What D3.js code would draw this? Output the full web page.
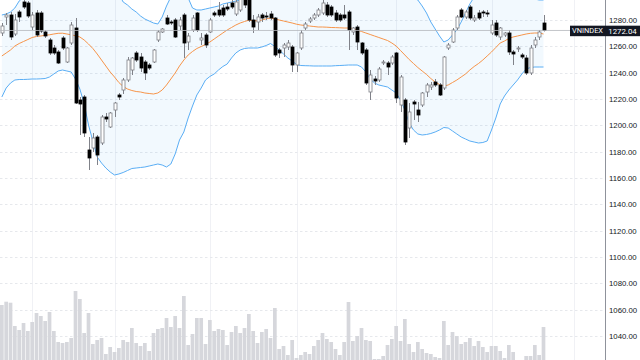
<!DOCTYPE html>
<html>
<head>
<meta charset="utf-8">
<script src="https://cdn.jsdelivr.net/npm/d3@7/dist/d3.min.js"></script>
<style>
  body { margin: 0; background: #fff; }
  svg { display: block; }
</style>
</head>
<body>
<div id="chart"></div>
<script>
// daily candles, oldest first
const opens = [1270.13,1282.28,1283.8,1269.37,1286.08,1293.67,1292.91,1274.68,1285.32,1285.32,
  1270.89,1264.81,1258.73,1255.7,1266.33,1248.1,1262.53,1273.92,1219.24,1221.52,
  1181.27,1182.78,1191.14,1186.58,1206.33,1198.74,1211.64,1223.04,1226.83,1234.43,
  1242.02,1254.94,1251.9,1248.1,1245.82,1248.1,1264.81,1270.89,1281.52,1278.48,
  1280.0,1275.44,1283.8,1263.29,1272.4,1285.32,1264.81,1268.61,1270.89,1285.32,
  1287.6,1289.11,1289.87,1292.91,1284.56,1287.6,1298.99,1295.19,1280.0,1278.48,
  1283.8,1283.04,1284.56,1281.52,1257.22,1258.73,1259.49,1259.49,1245.82,1258.73,
  1273.92,1279.24,1281.52,1283.8,1285.32,1291.39,1289.87,1285.32,1283.8,1283.8,
  1286.08,1270.89,1274.68,1262.53,1257.22,1225.32,1235.19,1234.43,1247.34,1247.34,
  1247.34,1254.94,1215.44,1219.24,1197.97,1217.72,1211.64,1215.44,1225.32,1229.11,
  1232.91,1230.63,1228.35,1258.73,1263.29,1273.92,1287.6,1282.28,1289.87,1280.0,
  1285.32,1286.08,1285.32,1270.13,1277.72,1267.09,1268.61,1270.13,1255.7,1257.97,
  1253.42,1251.14,1239.75,1261.01,1267.09,1277.72];
const highs = [1277.72,1285.32,1286.08,1284.56,1287.6,1295.19,1294.43,1286.08,1287.6,1286.84,
  1272.4,1266.33,1261.01,1257.22,1267.85,1259.49,1278.48,1281.52,1221.52,1223.04,
  1191.14,1194.18,1192.66,1207.85,1209.37,1210.13,1217.72,1224.56,1235.95,1251.9,
  1251.9,1256.46,1254.94,1249.62,1247.34,1257.97,1272.4,1273.92,1283.8,1280.0,
  1281.52,1282.28,1285.32,1270.13,1283.8,1286.08,1270.13,1270.13,1281.52,1286.84,
  1293.67,1291.39,1292.91,1295.19,1296.71,1299.75,1301.27,1297.47,1283.8,1284.56,
  1285.32,1286.08,1286.84,1282.28,1258.73,1262.53,1264.81,1261.01,1255.7,1272.4,
  1278.48,1282.28,1285.32,1289.11,1295.19,1293.67,1291.39,1287.6,1285.32,1291.39,
  1287.6,1274.68,1276.2,1263.29,1258.73,1242.02,1237.47,1244.3,1249.62,1248.86,
  1253.42,1255.7,1238.23,1220.76,1216.96,1219.24,1217.72,1225.32,1232.15,1232.91,
  1235.19,1232.15,1252.66,1262.53,1273.92,1283.8,1289.11,1287.6,1291.39,1283.8,
  1287.6,1287.6,1287.6,1280.0,1280.0,1274.68,1270.89,1272.4,1257.22,1260.25,
  1254.94,1253.42,1261.01,1267.09,1272.4,1283.8];
const lows = [1267.85,1276.2,1264.81,1267.85,1278.48,1288.35,1281.52,1272.4,1267.09,1270.13,
  1266.33,1253.42,1253.42,1246.58,1257.22,1247.34,1261.01,1216.2,1192.66,1191.14,
  1166.08,1179.75,1169.87,1185.06,1202.53,1197.97,1206.33,1219.24,1223.8,1232.91,
  1238.23,1248.1,1240.5,1234.43,1242.02,1247.34,1263.29,1270.13,1276.2,1276.2,
  1266.33,1272.4,1251.14,1257.22,1270.89,1270.89,1261.01,1258.73,1270.13,1282.28,
  1282.28,1282.28,1286.84,1288.35,1283.04,1286.08,1289.11,1278.48,1270.13,1272.4,
  1278.48,1280.0,1280.0,1251.9,1251.14,1251.9,1257.22,1240.5,1240.5,1257.22,
  1272.4,1277.72,1280.0,1282.28,1283.8,1282.28,1282.28,1278.48,1278.48,1280.0,
  1257.22,1268.61,1257.22,1253.42,1230.63,1219.24,1230.63,1232.91,1245.82,1238.23,
  1245.82,1216.96,1210.13,1185.06,1190.38,1204.05,1202.53,1213.92,1221.52,1226.83,
  1229.11,1222.28,1226.83,1257.22,1262.53,1272.4,1281.52,1280.76,1280.0,1278.48,
  1280.0,1282.28,1282.28,1268.61,1267.09,1264.81,1267.09,1253.42,1245.82,1255.7,
  1250.38,1238.23,1238.23,1258.73,1264.81,1271.27];
const closes = [1275.44,1283.8,1267.09,1280.0,1282.28,1289.87,1283.04,1283.8,1268.61,1271.65,
  1267.85,1254.94,1254.94,1247.34,1258.73,1258.73,1276.2,1216.96,1216.2,1194.18,
  1175.2,1190.38,1177.47,1206.33,1204.81,1209.37,1216.96,1221.52,1234.43,1249.62,
  1251.14,1249.62,1243.54,1239.75,1243.54,1257.22,1270.89,1273.16,1276.96,1277.72,
  1267.09,1280.0,1262.53,1267.85,1281.52,1272.4,1266.33,1261.01,1280.0,1283.8,
  1283.8,1283.8,1288.35,1289.87,1293.67,1297.47,1291.39,1280.0,1274.68,1282.28,
  1281.52,1282.28,1281.52,1253.42,1254.94,1261.01,1262.53,1245.82,1254.94,1270.13,
  1276.96,1280.76,1283.8,1287.6,1292.91,1283.8,1283.8,1280.0,1280.0,1281.52,
  1272.4,1273.92,1263.29,1254.94,1232.15,1238.23,1233.67,1242.78,1248.1,1244.3,
  1251.9,1220.76,1236.71,1187.34,1210.13,1216.2,1207.85,1224.56,1230.63,1230.63,
  1230.63,1223.04,1251.9,1261.01,1272.4,1282.28,1282.28,1286.08,1281.52,1281.52,
  1281.52,1285.32,1284.56,1276.2,1268.61,1273.92,1270.13,1255.7,1254.18,1258.73,
  1251.9,1239.75,1258.73,1264.81,1270.89,1272.04];
// volume, millions of shares
const volumes = [700,733,723,490,450,520,440,530,620,590,
  540,630,440,330,320,330,370,840,760,420,
  620,310,350,370,210,280,230,270,350,330,
  470,320,290,320,240,420,460,470,570,480,
  590,470,790,300,410,570,570,310,550,440,
  460,450,300,430,490,420,470,610,440,320,
  430,460,370,670,260,290,200,350,170,200,
  230,210,290,350,420,360,330,260,200,330,
  730,340,390,470,350,340,160,160,190,300,
  360,490,340,560,310,230,330,260,220,210,
  180,170,540,300,430,390,310,330,370,290,
  340,280,230,290,290,240,170,300,230,100,
  100,190,190,300,200,480];
// Bollinger Bands (20, 2)
const bbUpper = [1283.8,1284.56,1286.08,1289.11,1294.43,1297.47,1299.75,1302.03,1303.54,1304.3,
  1305.06,1305.06,1304.3,1303.54,1302.79,1302.79,1302.79,1304.3,1307.34,1313.42,
  1321.77,1327.09,1330.13,1327.85,1322.53,1316.46,1308.86,1299.75,1293.67,1291.39,
  1288.35,1286.08,1283.04,1280.76,1279.24,1277.72,1276.96,1282.28,1290.63,1297.47,
  1301.27,1302.03,1301.27,1296.71,1289.11,1287.6,1287.6,1288.35,1289.11,1289.87,
  1290.63,1292.15,1292.91,1293.67,1294.43,1295.19,1296.71,1301.27,1300.51,1299.75,
  1300.51,1301.27,1300.89,1301.65,1302.79,1304.3,1305.82,1306.58,1307.34,1306.96,
  1306.35,1305.67,1305.06,1304.3,1304.3,1304.0,1303.54,1303.16,1302.79,1302.25,
  1302.03,1301.27,1298.99,1298.23,1299.75,1302.79,1303.54,1302.79,1301.27,1299.75,
  1298.23,1296.71,1297.47,1297.47,1298.23,1297.47,1295.19,1290.63,1285.32,1278.48,
  1273.16,1267.85,1263.29,1264.81,1268.61,1272.4,1278.48,1285.32,1292.15,1297.47,
  1302.79,1307.34,1311.9,1311.9,1310.38,1308.1,1305.82,1304.3,1302.79,1301.27,
  1298.99,1297.47,1296.71,1295.95,1295.19,1295.19];
const bbBasis = [1252.66,1254.94,1257.22,1260.25,1262.15,1263.67,1265.19,1266.71,1267.47,1267.85,
  1268.38,1268.76,1269.37,1269.9,1269.97,1269.37,1268.76,1268.0,1267.09,1264.81,
  1261.77,1258.35,1254.18,1249.62,1245.06,1240.5,1236.71,1232.53,1229.49,1227.59,
  1226.45,1225.69,1225.32,1224.56,1224.18,1223.8,1224.56,1226.83,1230.63,1235.19,
  1239.75,1245.06,1249.62,1253.42,1256.08,1258.35,1259.87,1261.39,1263.29,1265.57,
  1267.85,1270.13,1272.4,1274.3,1276.2,1277.72,1278.86,1279.85,1279.62,1279.24,
  1280.0,1280.91,1281.52,1280.76,1280.0,1279.24,1278.48,1277.72,1276.81,1276.2,
  1275.82,1275.44,1275.06,1274.68,1274.68,1274.53,1274.3,1274.23,1274.08,1273.92,
  1273.92,1273.54,1272.4,1271.27,1270.13,1268.99,1267.85,1266.71,1265.57,1264.43,
  1262.53,1260.25,1256.84,1253.42,1250.0,1246.96,1243.92,1241.27,1238.61,1235.57,
  1232.91,1231.01,1229.87,1230.63,1232.53,1234.43,1236.71,1238.99,1242.02,1244.68,
  1246.96,1249.62,1252.66,1255.7,1259.11,1262.53,1264.05,1265.95,1267.09,1267.85,
  1268.61,1269.37,1269.9,1270.13,1270.13,1269.37];
const bbLower = [1221.52,1228.35,1232.15,1234.43,1234.81,1234.81,1234.96,1235.19,1235.19,1235.34,
  1235.57,1236.71,1238.99,1241.27,1242.02,1241.27,1240.5,1235.19,1227.59,1216.2,
  1200.25,1188.1,1175.95,1171.39,1167.59,1164.56,1162.28,1163.04,1164.18,1165.69,
  1167.21,1167.59,1167.97,1168.35,1169.11,1169.87,1170.63,1169.87,1168.35,1170.63,
  1178.23,1188.86,1194.94,1205.57,1214.68,1223.04,1228.35,1234.43,1237.09,1238.99,
  1242.02,1244.68,1246.58,1251.14,1254.94,1257.22,1258.35,1258.73,1258.73,1258.73,
  1259.49,1260.63,1262.15,1259.87,1257.22,1254.18,1251.14,1248.86,1246.2,1245.44,
  1245.29,1245.21,1245.06,1245.06,1245.06,1245.06,1245.06,1245.29,1245.44,1245.6,
  1245.82,1245.82,1245.82,1244.3,1240.5,1235.19,1232.15,1230.63,1229.87,1229.11,
  1226.83,1224.56,1219.24,1211.64,1201.77,1196.45,1193.42,1192.66,1193.04,1193.8,
  1194.94,1196.45,1198.35,1197.97,1195.7,1193.42,1191.14,1189.62,1188.1,1187.34,
  1186.58,1186.96,1188.1,1196.45,1205.57,1216.2,1222.28,1226.83,1230.63,1234.43,
  1238.99,1242.78,1243.92,1244.3,1244.3,1244.3];

const priceTicks = [1020,1040,1060,1080,1100,1120,1140,1160,1180,1200,1220,1240,1260,1280];
const monthStarts = [7, 26, 48, 68, 91, 113, 132]; // candle index of each month's first session
const symbol = "VNINDEX";
const lastPrice = 1272.04;

//
//	drawChart
//
const W = 640, H = 360, paneRight = 605;

const svg = d3.select("#chart").append("svg")
  .attr("width", W).attr("height", H)
  .style("font-family", "Roboto, 'DejaVu Sans', sans-serif");

const x = d3.scaleLinear().domain([0, closes.length - 1]).range([1.85, 543.5]);
const y = d3.scaleLinear().domain([1040, 1280]).range([336, 20]);
const yVol = d3.scaleLinear().domain([0, 1000]).range([375, 275]);

svg.append("defs").append("clipPath").attr("id", "pane")
  .append("rect").attr("x", 0).attr("y", 0).attr("width", paneRight).attr("height", H);

const pane = svg.append("g").attr("clip-path", "url(#pane)");

// grid
pane.append("g").selectAll("line").data(monthStarts).join("line")
  .attr("x1", d => Math.round(x(d)) + 0.5).attr("x2", d => Math.round(x(d)) + 0.5)
  .attr("y1", 0).attr("y2", H)
  .attr("stroke", "#f0f1f5");
pane.append("g").selectAll("line").data(priceTicks).join("line")
  .attr("x1", 0).attr("x2", paneRight)
  .attr("y1", d => Math.round(y(d)) + 0.5).attr("y2", d => Math.round(y(d)) + 0.5)
  .attr("stroke", "#e6e8ec").attr("stroke-dasharray", "2.5,2.5");

// volume
pane.append("g").selectAll("rect").data(volumes).join("rect")
  .attr("x", (d, i) => x(i) - 1.85)
  .attr("width", 3.7)
  .attr("y", d => yVol(d))
  .attr("height", d => yVol(0) - yVol(d))
  .attr("fill", "#d6d7dc");

// bollinger bands
const idx = d3.range(closes.length);
pane.append("path").datum(idx)
  .attr("d", d3.area().x(i => x(i)).y0(i => y(bbLower[i])).y1(i => y(bbUpper[i])))
  .attr("fill", "rgba(33,150,243,0.06)");
const bandLine = arr => d3.line().x(i => x(i)).y(i => y(arr[i]));
pane.append("path").datum(idx).attr("d", bandLine(bbUpper))
  .attr("fill", "none").attr("stroke", "#5aaef5").attr("stroke-width", 1);
pane.append("path").datum(idx).attr("d", bandLine(bbLower))
  .attr("fill", "none").attr("stroke", "#5aaef5").attr("stroke-width", 1);
pane.append("path").datum(idx).attr("d", bandLine(bbBasis))
  .attr("fill", "none").attr("stroke", "#f7954a").attr("stroke-width", 1);

// candles
const candles = pane.append("g").selectAll("g").data(idx).join("g");
candles.append("line")
  .attr("x1", i => Math.round(x(i)) + 0.5).attr("x2", i => Math.round(x(i)) + 0.5)
  .attr("y1", i => y(highs[i])).attr("y2", i => y(lows[i]))
  .attr("stroke", "#808289");
candles.append("rect")
  .attr("x", i => Math.round(x(i)) - 1)
  .attr("width", 3)
  .attr("y", i => y(Math.max(opens[i], closes[i])))
  .attr("height", i => Math.max(1, Math.abs(y(opens[i]) - y(closes[i]))))
  .attr("fill", i => closes[i] >= opens[i] ? "#fff" : "#000")
  .attr("stroke", i => closes[i] >= opens[i] ? "#7d7f86" : "#000")
  .attr("stroke-width", 0.8);

// last price line
pane.append("line")
  .attr("x1", 0).attr("x2", paneRight)
  .attr("y1", y(lastPrice)).attr("y2", y(lastPrice))
  .attr("stroke", "#b4b6bd").attr("stroke-width", 0.8);

// right price axis
const axis = svg.append("g")
  .attr("transform", "translate(" + paneRight + ",0)")
  .call(d3.axisRight(y).tickValues(priceTicks).tickSize(0).tickPadding(4)
    .tickFormat(d3.format(".2f")));
axis.select(".domain").attr("stroke", "#8f929b").attr("d", "M0.5,0V" + H);
axis.selectAll("text").attr("fill", "#131722").style("font-size", "7.8px");

// symbol / last value labels
const ly = y(lastPrice);
svg.append("rect").attr("x", 570).attr("y", ly - 4.8).attr("width", 35).attr("height", 10.5)
  .attr("fill", "#131722");
svg.append("rect").attr("x", paneRight).attr("y", ly - 4.8).attr("width", 35).attr("height", 10.5)
  .attr("fill", "#131722");
svg.append("text").attr("x", 587.5).attr("y", ly + 0.6).attr("dy", "0.32em")
  .attr("text-anchor", "middle").attr("fill", "#fff").style("font-size", "7.4px")
  .text(symbol);
svg.append("text").attr("x", 622.5).attr("y", ly + 0.6).attr("dy", "0.32em")
  .attr("text-anchor", "middle").attr("fill", "#fff").style("font-size", "7.8px")
  .text(d3.format(".2f")(lastPrice));
</script>
</body>
</html>
